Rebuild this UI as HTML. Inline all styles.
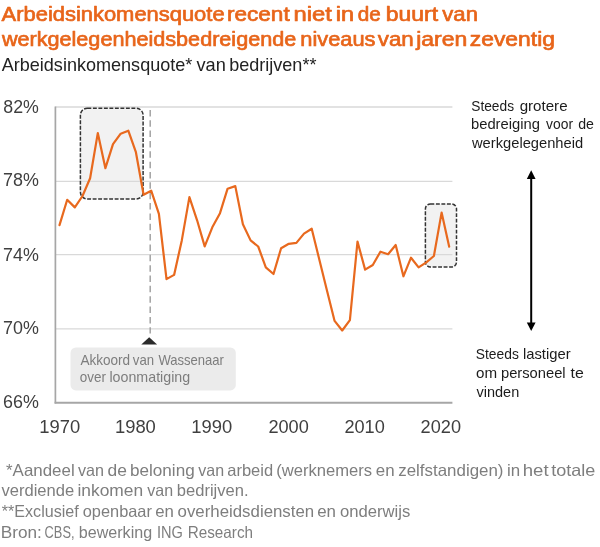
<!DOCTYPE html>
<html lang="nl">
<head>
<meta charset="utf-8">
<title>Arbeidsinkomensquote van bedrijven</title>
<style>
html,body{margin:0;padding:0;background:#fff;}
body{width:600px;height:547px;overflow:hidden;}
svg{display:block;font-family:"Liberation Sans",sans-serif;}
svg text{white-space:pre;}
</style>
</head>
<body>
<svg width="600" height="547" viewBox="0 0 600 547" role="img" aria-label="Arbeidsinkomensquote van bedrijven, 1970-2021">
<rect width="600" height="547" fill="#fff"/>
<g id="title">
<text y="20.6" font-size="19.5" fill="#e8651a" stroke="#e8651a" stroke-width="0.65" stroke-linejoin="round"><tspan x="1.6" textLength="222.98" lengthAdjust="spacingAndGlyphs">Arbeidsinkomensquote</tspan> <tspan x="226.95" textLength="62.78" lengthAdjust="spacingAndGlyphs">recent</tspan> <tspan x="293.48" textLength="38.37" lengthAdjust="spacingAndGlyphs">niet</tspan> <tspan x="335.69" textLength="18.34" lengthAdjust="spacingAndGlyphs">in</tspan> <tspan x="357.7" textLength="23.01" lengthAdjust="spacingAndGlyphs">de</tspan> <tspan x="385.83" textLength="52.21" lengthAdjust="spacingAndGlyphs">buurt</tspan> <tspan x="442.32" textLength="35.65" lengthAdjust="spacingAndGlyphs">van</tspan></text>
<text y="46.2" font-size="19.5" fill="#e8651a" stroke="#e8651a" stroke-width="0.65" stroke-linejoin="round"><tspan x="1.9" textLength="294.37" lengthAdjust="spacingAndGlyphs">werkgelegenheidsbedreigende</tspan> <tspan x="300.3" textLength="75.2" lengthAdjust="spacingAndGlyphs">niveaus</tspan> <tspan x="377.71" textLength="36.07" lengthAdjust="spacingAndGlyphs">van</tspan> <tspan x="416.19" textLength="51.13" lengthAdjust="spacingAndGlyphs">jaren</tspan> <tspan x="469.82" textLength="85.12" lengthAdjust="spacingAndGlyphs">zeventig</tspan></text>
</g>
<g id="subtitle">
<text y="70.7" font-size="18.2" fill="#222222"><tspan x="1.7" textLength="190.66" lengthAdjust="spacingAndGlyphs">Arbeidsinkomensquote*</tspan> <tspan x="196.45" textLength="29.33" lengthAdjust="spacingAndGlyphs">van</tspan> <tspan x="229.16" textLength="87.31" lengthAdjust="spacingAndGlyphs">bedrijven**</tspan></text>
</g>
<g id="chart">
<g id="highlight-fill">
<rect x="80.4" y="108.2" width="62.7" height="90.9" rx="7" ry="7" fill="#f2f2f2"/>
<rect x="425.4" y="203.9" width="31.1" height="63.1" rx="5" ry="5" fill="#f2f2f2"/>
</g>
<g id="gridlines">
<line x1="55.3" x2="452.4" y1="107.0" y2="107.0" stroke="#d9d9d9" stroke-width="1.4"/>
<line x1="55.3" x2="452.4" y1="181.4" y2="181.4" stroke="#d9d9d9" stroke-width="1.4"/>
<line x1="55.3" x2="452.4" y1="254.6" y2="254.6" stroke="#d9d9d9" stroke-width="1.4"/>
<line x1="55.3" x2="452.4" y1="328.9" y2="328.9" stroke="#d9d9d9" stroke-width="1.4"/>
</g>
<g id="highlight-outline">
<rect x="80.4" y="108.2" width="62.7" height="90.9" rx="7" ry="7" fill="none" stroke="#333" stroke-width="1.5" stroke-dasharray="3.9 1.6"/>
<rect x="425.4" y="203.9" width="31.1" height="63.1" rx="5" ry="5" fill="none" stroke="#333" stroke-width="1.5" stroke-dasharray="3.9 1.6"/>
</g>
<g id="marker-1982">
<line x1="150.2" x2="150.2" y1="109.9" y2="333.6" stroke="#a3a3a3" stroke-width="1.5" stroke-dasharray="6.5 3.85"/>
</g>
<g id="axes">
<line x1="55.4" x2="55.4" y1="106.4" y2="403.59999999999997" stroke="#a6a6a6" stroke-width="1.7"/>
<line x1="54.599999999999994" x2="452.4" y1="402.7" y2="402.7" stroke="#a6a6a6" stroke-width="2"/>
</g>
<g id="series">
<polyline points="59.5,225.1 67.2,199.8 74.8,207.4 82.5,196.0 90.1,178.3 97.8,133.1 105.4,168.2 113.0,144.1 120.7,133.7 128.3,130.7 135.9,152.2 143.6,194.8 151.2,190.7 158.9,213.8 166.5,279.1 174.1,274.9 181.8,240.4 189.4,197.1 197.1,220.3 204.7,246.4 212.3,227.3 220.0,213.2 227.6,188.7 235.3,186.1 242.9,224.2 250.6,240.4 258.2,246.5 265.8,267.3 273.5,274.0 281.1,248.2 288.8,243.8 296.4,242.9 304.0,233.6 311.7,228.7 319.3,259.5 326.9,290.2 334.6,320.9 342.2,330.5 349.9,320.1 357.5,241.6 365.1,269.6 372.8,265.0 380.4,251.7 388.1,254.2 395.7,245.0 403.4,276.3 411.0,257.7 418.6,267.4 426.3,262.4 433.9,256.0 441.6,212.6 449.2,246.7" fill="none" stroke="#e8691e" stroke-width="2.2" stroke-linejoin="round" stroke-linecap="round"/>
</g>
<g id="callout">
<polygon points="149.2,337.2 157.1,344.6 141.3,344.6" fill="#2b2b2b"/>
<rect x="70.5" y="347.5" width="165.3" height="42.9" rx="5.5" ry="5.5" fill="#ebebeb"/>
<text y="365.4" font-size="14.8" fill="#7d7d7d"><tspan x="80.4" textLength="49.76" lengthAdjust="spacingAndGlyphs">Akkoord</tspan> <tspan x="132.8" textLength="21.27" lengthAdjust="spacingAndGlyphs">van</tspan> <tspan x="158.38" textLength="65.58" lengthAdjust="spacingAndGlyphs">Wassenaar</tspan></text>
<text y="382.0" font-size="14.8" fill="#7d7d7d"><tspan x="79.72" textLength="26.15" lengthAdjust="spacingAndGlyphs">over</tspan> <tspan x="109.44" textLength="80.73" lengthAdjust="spacingAndGlyphs">loonmatiging</tspan></text>
</g>
<g id="y-axis-labels">
<text x="3.26" y="113.0" font-size="18" fill="#3f3f3f" textLength="35.61" lengthAdjust="spacingAndGlyphs">82%</text>
<text x="3.0" y="186.4" font-size="18" fill="#3f3f3f" textLength="35.87" lengthAdjust="spacingAndGlyphs">78%</text>
<text x="3.0" y="260.6" font-size="18" fill="#3f3f3f" textLength="35.87" lengthAdjust="spacingAndGlyphs">74%</text>
<text x="3.0" y="333.7" font-size="18" fill="#3f3f3f" textLength="35.87" lengthAdjust="spacingAndGlyphs">70%</text>
<text x="3.0" y="408.1" font-size="18" fill="#3f3f3f" textLength="35.87" lengthAdjust="spacingAndGlyphs">66%</text>
</g>
<g id="x-axis-labels">
<text x="39.21" y="432.9" font-size="18.5" fill="#3f3f3f" textLength="40.95" lengthAdjust="spacingAndGlyphs">1970</text>
<text x="114.91" y="432.9" font-size="18.5" fill="#3f3f3f" textLength="40.95" lengthAdjust="spacingAndGlyphs">1980</text>
<text x="191.21" y="432.9" font-size="18.5" fill="#3f3f3f" textLength="40.95" lengthAdjust="spacingAndGlyphs">1990</text>
<text x="268.42" y="432.9" font-size="18.5" fill="#3f3f3f" textLength="40.43" lengthAdjust="spacingAndGlyphs">2000</text>
<text x="344.42" y="432.9" font-size="18.5" fill="#3f3f3f" textLength="40.43" lengthAdjust="spacingAndGlyphs">2010</text>
<text x="420.62" y="432.9" font-size="18.5" fill="#3f3f3f" textLength="40.43" lengthAdjust="spacingAndGlyphs">2020</text>
</g>
</g>
<g id="side-notes">
<line x1="531.2" x2="531.2" y1="177" y2="324" stroke="#000" stroke-width="2"/>
<polygon points="531.2,170.3 535.6,179 526.8,179" fill="#000"/>
<polygon points="531.2,331 535.6,322.4 526.8,322.4" fill="#000"/>
<text y="110.8" font-size="14.2" fill="#1c1c1c"><tspan x="471.27" textLength="42.73" lengthAdjust="spacingAndGlyphs">Steeds</tspan> <tspan x="519.67" textLength="47.88" lengthAdjust="spacingAndGlyphs">grotere</tspan></text>
<text y="129.3" font-size="14.2" fill="#1c1c1c"><tspan x="470.96" textLength="69.0" lengthAdjust="spacingAndGlyphs">bedreiging</tspan> <tspan x="546.1" textLength="26.95" lengthAdjust="spacingAndGlyphs">voor</tspan> <tspan x="578.2" textLength="15.73" lengthAdjust="spacingAndGlyphs">de</tspan></text>
<text x="472.0" y="148.3" font-size="14.2" fill="#1c1c1c" textLength="111.17" lengthAdjust="spacingAndGlyphs">werkgelegenheid</text>
<text y="359.4" font-size="14.2" fill="#1c1c1c"><tspan x="475.77" textLength="43.04" lengthAdjust="spacingAndGlyphs">Steeds</tspan> <tspan x="522.96" textLength="47.7" lengthAdjust="spacingAndGlyphs">lastiger</tspan></text>
<text y="378.0" font-size="14.2" fill="#1c1c1c"><tspan x="475.97" textLength="21.07" lengthAdjust="spacingAndGlyphs">om</tspan> <tspan x="500.96" textLength="64.7" lengthAdjust="spacingAndGlyphs">personeel</tspan> <tspan x="570.62" textLength="13.24" lengthAdjust="spacingAndGlyphs">te</tspan></text>
<text x="476.5" y="397.3" font-size="14.2" fill="#1c1c1c" textLength="42.73" lengthAdjust="spacingAndGlyphs">vinden</text>
</g>
<g id="footnotes">
<text y="475.5" font-size="16.5" fill="#7e7e7e"><tspan x="6.04" textLength="68.62" lengthAdjust="spacingAndGlyphs">*Aandeel</tspan> <tspan x="78.06" textLength="26.03" lengthAdjust="spacingAndGlyphs">van</tspan> <tspan x="107.51" textLength="19.4" lengthAdjust="spacingAndGlyphs">de</tspan> <tspan x="129.96" textLength="64.72" lengthAdjust="spacingAndGlyphs">beloning</tspan> <tspan x="198.26" textLength="25.82" lengthAdjust="spacingAndGlyphs">van</tspan> <tspan x="227.25" textLength="45.88" lengthAdjust="spacingAndGlyphs">arbeid</tspan> <tspan x="276.19" textLength="95.92" lengthAdjust="spacingAndGlyphs">(werknemers</tspan> <tspan x="375.83" textLength="18.8" lengthAdjust="spacingAndGlyphs">en</tspan> <tspan x="398.23" textLength="105.28" lengthAdjust="spacingAndGlyphs">zelfstandigen)</tspan> <tspan x="506.98" textLength="13.14" lengthAdjust="spacingAndGlyphs">in</tspan> <tspan x="522.79" textLength="25.82" lengthAdjust="spacingAndGlyphs">het</tspan> <tspan x="551.23" textLength="44.13" lengthAdjust="spacingAndGlyphs">totale</tspan></text>
<text y="496.2" font-size="16.5" fill="#7e7e7e"><tspan x="1.45" textLength="72.79" lengthAdjust="spacingAndGlyphs">verdiende</tspan> <tspan x="77.45" textLength="65.74" lengthAdjust="spacingAndGlyphs">inkomen</tspan> <tspan x="147.26" textLength="25.82" lengthAdjust="spacingAndGlyphs">van</tspan> <tspan x="176.8" textLength="71.75" lengthAdjust="spacingAndGlyphs">bedrijven.</tspan></text>
<text y="516.9" font-size="16.5" fill="#7e7e7e"><tspan x="1.76" textLength="77.02" lengthAdjust="spacingAndGlyphs">**Exclusief</tspan> <tspan x="82.76" textLength="69.18" lengthAdjust="spacingAndGlyphs">openbaar</tspan> <tspan x="155.24" textLength="18.69" lengthAdjust="spacingAndGlyphs">en</tspan> <tspan x="177.53" textLength="136.68" lengthAdjust="spacingAndGlyphs">overheidsdiensten</tspan> <tspan x="317.23" textLength="18.8" lengthAdjust="spacingAndGlyphs">en</tspan> <tspan x="339.94" textLength="70.37" lengthAdjust="spacingAndGlyphs">onderwijs</tspan></text>
<text y="537.5" font-size="16.5" fill="#7e7e7e"><tspan x="0.7" textLength="41.1" lengthAdjust="spacingAndGlyphs">Bron:</tspan> <tspan x="44.62" textLength="29.86" lengthAdjust="spacingAndGlyphs">CBS,</tspan> <tspan x="78.72" textLength="73.42" lengthAdjust="spacingAndGlyphs">bewerking</tspan> <tspan x="156.88" textLength="25.91" lengthAdjust="spacingAndGlyphs">ING</tspan> <tspan x="187.74" textLength="65.3" lengthAdjust="spacingAndGlyphs">Research</tspan></text>
</g>
</svg>
</body>
</html>
